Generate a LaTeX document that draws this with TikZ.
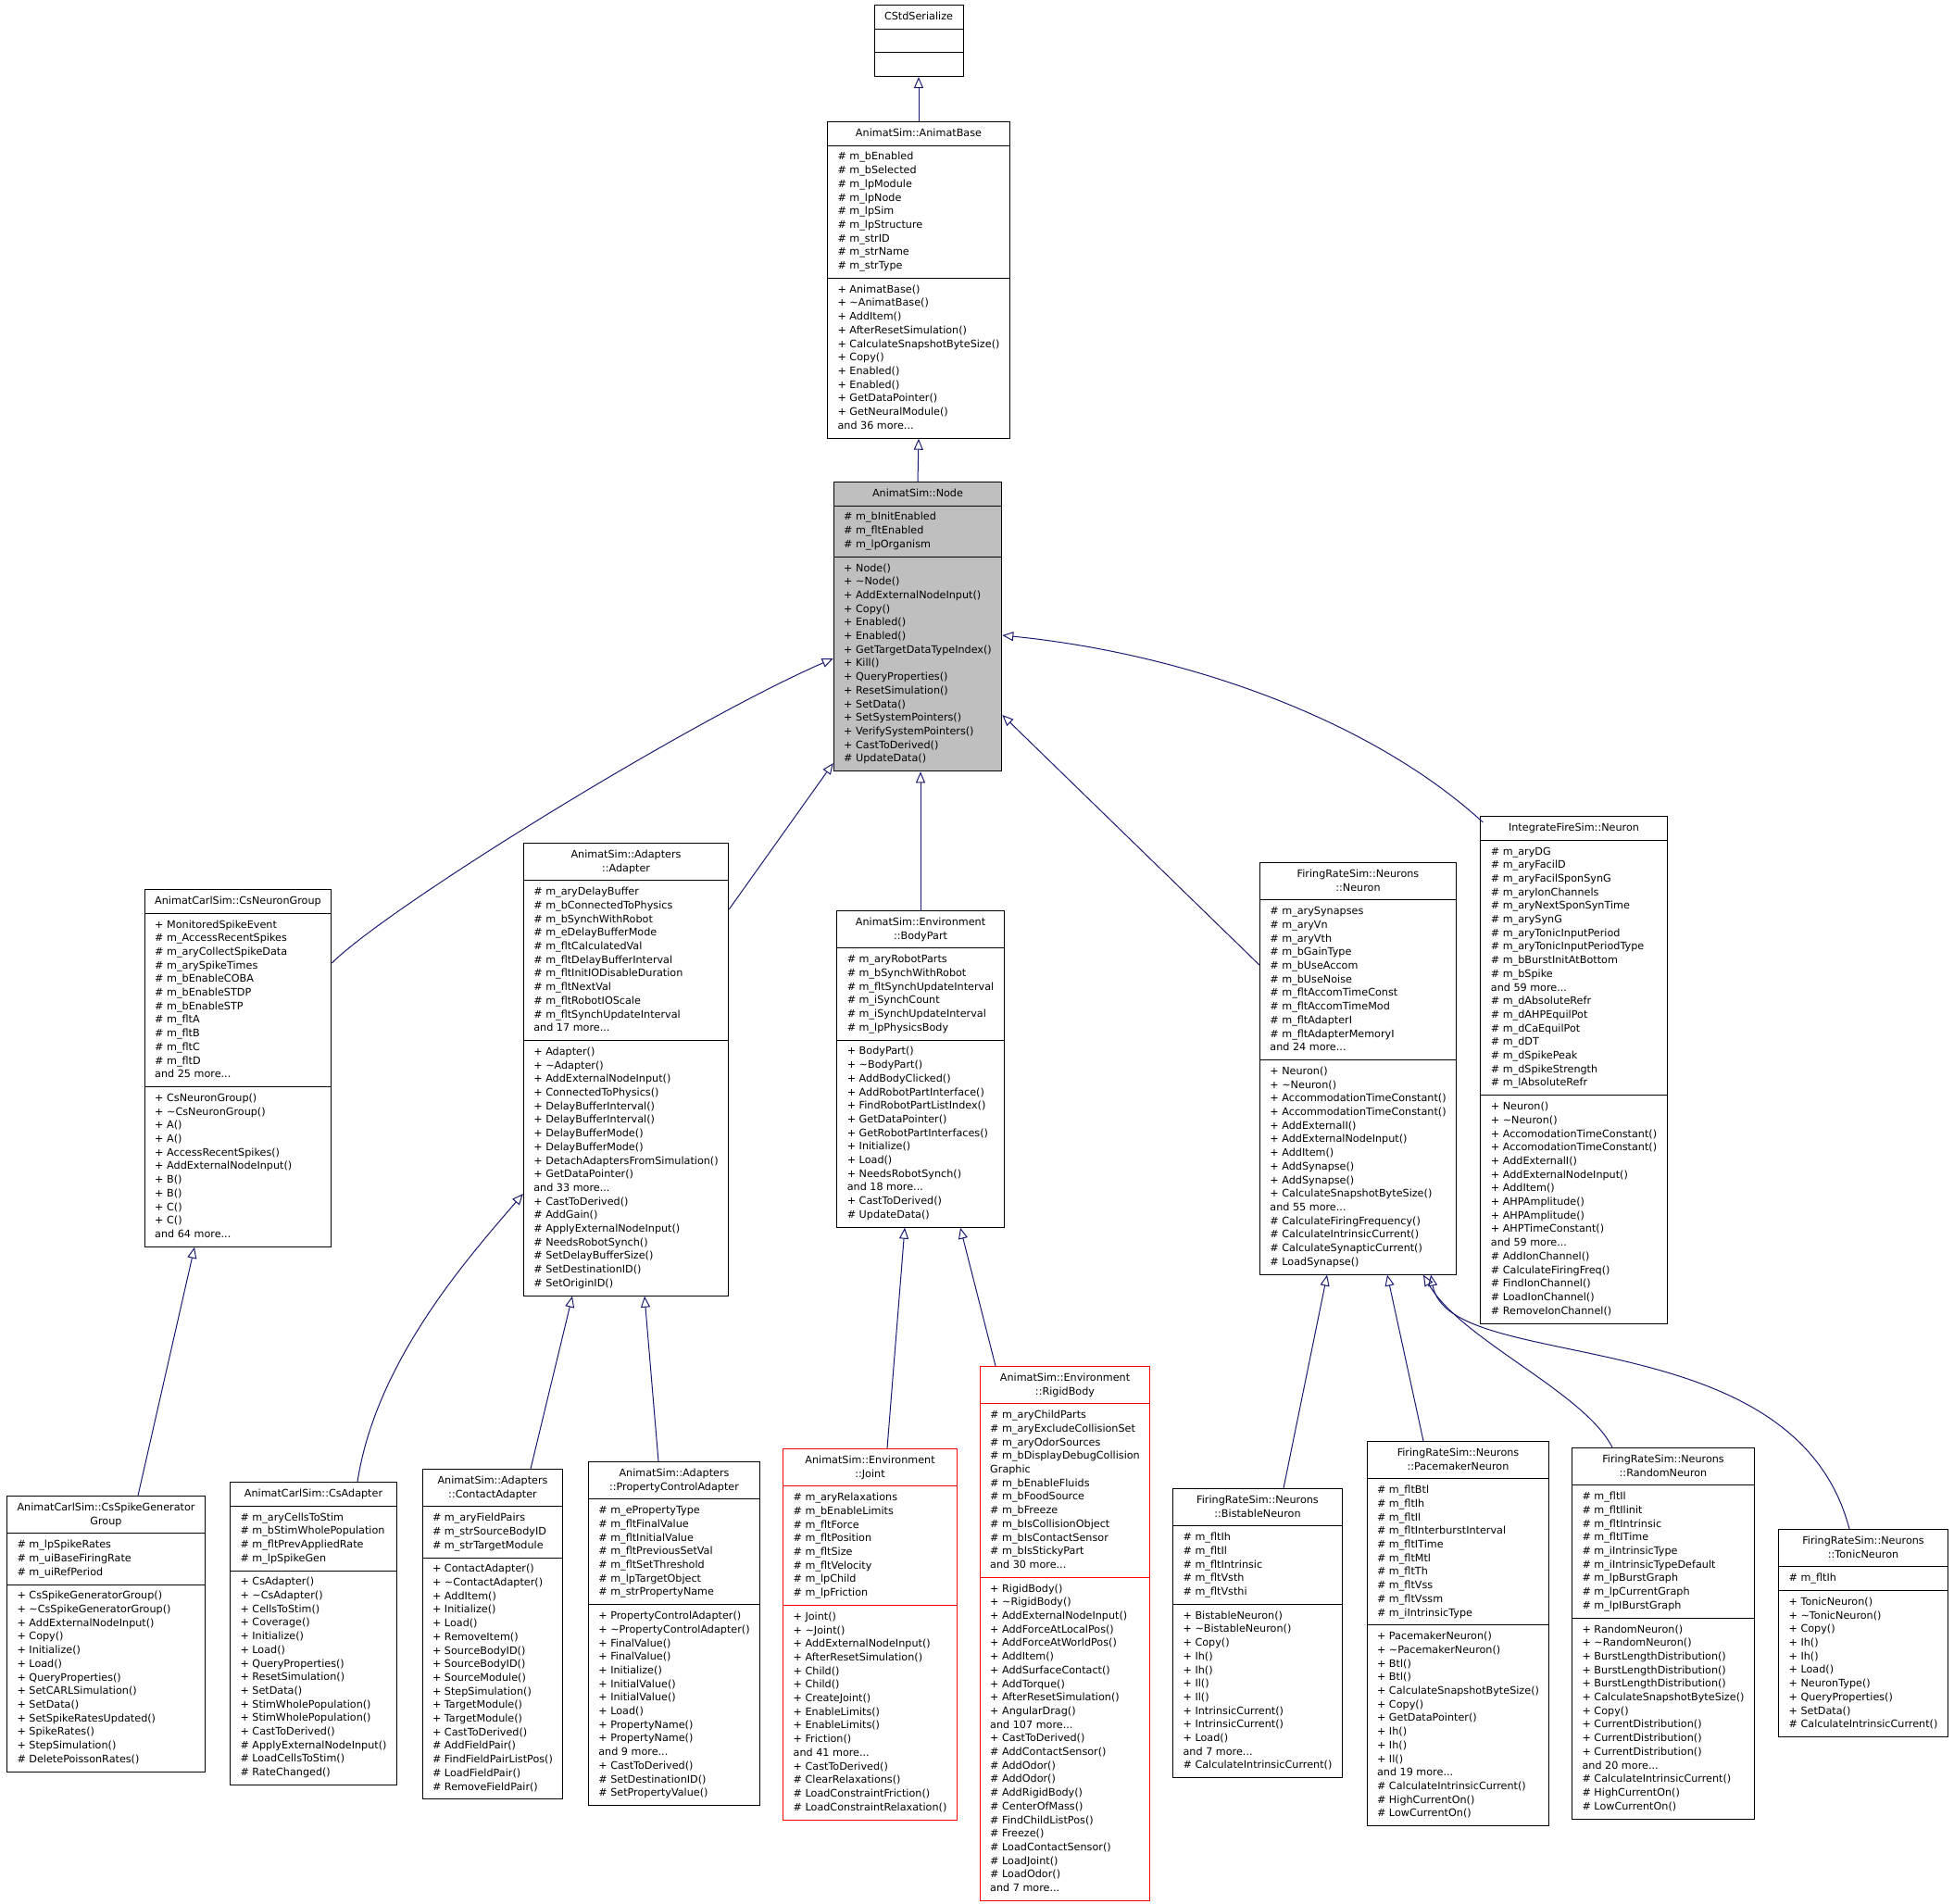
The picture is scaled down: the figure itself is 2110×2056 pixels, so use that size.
\documentclass[tikz,border=0pt]{standalone}
\usepackage{fontspec}
\setmainfont{DejaVu Sans}
\usetikzlibrary{arrows.meta,shapes.multipart}
\definecolor{edgeblue}{HTML}{191970}
\definecolor{grey75}{HTML}{BFBFBF}
% one compartment of a class box, one member per row
\newcommand\cmp[1]{\begin{tabular}{@{}l@{}}#1\end{tabular}}
\newcommand\ttl[1]{\begin{tabular}{@{}c@{}}#1\end{tabular}}
\newcommand\dtor{\textasciitilde}
\tikzset{
  cls/.style={rectangle split,rectangle split parts=3,
    rectangle split part align={center,left,left},
    draw=black,line width=1pt,fill=white,anchor=north,
    inner xsep=11pt,inner ysep=5pt,
    font=\fontsize{11.2}{14.7}\selectfont},
  cur/.style={cls,fill=grey75},   % the class the graph is about
  trunc/.style={cls,draw=red},    % truncated subclasses
  inh/.style={draw=edgeblue,line width=1pt,line join=miter,
    -{Triangle[open,length=12pt,width=10pt]}},
}

\begin{document}
\begin{tikzpicture}[x=1pt,y=-1pt]
  \useasboundingbox (0,0) rectangle (2110,2056);
  % ---- bases ----
  \node[cls] (cstd) at (992,5) {\ttl{CStdSerialize}\nodepart{second}\cmp{\mbox{}}\nodepart{third}\cmp{\mbox{}}};
  \node[cls] (abase) at (992,131) {\ttl{AnimatSim::AnimatBase}
    \nodepart{second}\cmp{\# m\_bEnabled\\\# m\_bSelected\\\# m\_lpModule\\\# m\_lpNode\\\# m\_lpSim\\\# m\_lpStructure\\\# m\_strID\\\# m\_strName\\\# m\_strType}
    \nodepart{third}\cmp{+ AnimatBase()\\+ \dtor AnimatBase()\\+ AddItem()\\+ AfterResetSimulation()\\+ CalculateSnapshotByteSize()\\+ Copy()\\+ Enabled()\\+ Enabled()\\+ GetDataPointer()\\+ GetNeuralModule()\\and 36 more...}};
  \node[cur] (nd) at (991,520) {\ttl{AnimatSim::Node}
    \nodepart{second}\cmp{\# m\_bInitEnabled\\\# m\_fltEnabled\\\# m\_lpOrganism}
    \nodepart{third}\cmp{+ Node()\\+ \dtor Node()\\+ AddExternalNodeInput()\\+ Copy()\\+ Enabled()\\+ Enabled()\\+ GetTargetDataTypeIndex()\\+ Kill()\\+ QueryProperties()\\+ ResetSimulation()\\+ SetData()\\+ SetSystemPointers()\\+ VerifySystemPointers()\\+ CastToDerived()\\\# UpdateData()}};
  % ---- direct subclasses ----
  \node[cls] (csng) at (257,960) {\ttl{AnimatCarlSim::CsNeuronGroup}
    \nodepart{second}\cmp{+ MonitoredSpikeEvent\\\# m\_AccessRecentSpikes\\\# m\_aryCollectSpikeData\\\# m\_arySpikeTimes\\\# m\_bEnableCOBA\\\# m\_bEnableSTDP\\\# m\_bEnableSTP\\\# m\_fltA\\\# m\_fltB\\\# m\_fltC\\\# m\_fltD\\and 25 more...}
    \nodepart{third}\cmp{+ CsNeuronGroup()\\+ \dtor CsNeuronGroup()\\+ A()\\+ A()\\+ AccessRecentSpikes()\\+ AddExternalNodeInput()\\+ B()\\+ B()\\+ C()\\+ C()\\and 64 more...}};
  \node[cls] (adp) at (676,910) {\ttl{AnimatSim::Adapters\\::Adapter}
    \nodepart{second}\cmp{\# m\_aryDelayBuffer\\\# m\_bConnectedToPhysics\\\# m\_bSynchWithRobot\\\# m\_eDelayBufferMode\\\# m\_fltCalculatedVal\\\# m\_fltDelayBufferInterval\\\# m\_fltInitIODisableDuration\\\# m\_fltNextVal\\\# m\_fltRobotIOScale\\\# m\_fltSynchUpdateInterval\\and 17 more...}
    \nodepart{third}\cmp{+ Adapter()\\+ \dtor Adapter()\\+ AddExternalNodeInput()\\+ ConnectedToPhysics()\\+ DelayBufferInterval()\\+ DelayBufferInterval()\\+ DelayBufferMode()\\+ DelayBufferMode()\\+ DetachAdaptersFromSimulation()\\+ GetDataPointer()\\and 33 more...\\+ CastToDerived()\\\# AddGain()\\\# ApplyExternalNodeInput()\\\# NeedsRobotSynch()\\\# SetDelayBufferSize()\\\# SetDestinationID()\\\# SetOriginID()}};
  \node[cls] (bp) at (994,983) {\ttl{AnimatSim::Environment\\::BodyPart}
    \nodepart{second}\cmp{\# m\_aryRobotParts\\\# m\_bSynchWithRobot\\\# m\_fltSynchUpdateInterval\\\# m\_iSynchCount\\\# m\_iSynchUpdateInterval\\\# m\_lpPhysicsBody}
    \nodepart{third}\cmp{+ BodyPart()\\+ \dtor BodyPart()\\+ AddBodyClicked()\\+ AddRobotPartInterface()\\+ FindRobotPartListIndex()\\+ GetDataPointer()\\+ GetRobotPartInterfaces()\\+ Initialize()\\+ Load()\\+ NeedsRobotSynch()\\and 18 more...\\+ CastToDerived()\\\# UpdateData()}};
  \node[cls] (frn) at (1466.5,931) {\ttl{FiringRateSim::Neurons\\::Neuron}
    \nodepart{second}\cmp{\# m\_arySynapses\\\# m\_aryVn\\\# m\_aryVth\\\# m\_bGainType\\\# m\_bUseAccom\\\# m\_bUseNoise\\\# m\_fltAccomTimeConst\\\# m\_fltAccomTimeMod\\\# m\_fltAdapterI\\\# m\_fltAdapterMemoryI\\and 24 more...}
    \nodepart{third}\cmp{+ Neuron()\\+ \dtor Neuron()\\+ AccommodationTimeConstant()\\+ AccommodationTimeConstant()\\+ AddExternalI()\\+ AddExternalNodeInput()\\+ AddItem()\\+ AddSynapse()\\+ AddSynapse()\\+ CalculateSnapshotByteSize()\\and 55 more...\\\# CalculateFiringFrequency()\\\# CalculateIntrinsicCurrent()\\\# CalculateSynapticCurrent()\\\# LoadSynapse()}};
  \node[cls] (ifn) at (1699.5,881) {\ttl{IntegrateFireSim::Neuron}
    \nodepart{second}\cmp{\# m\_aryDG\\\# m\_aryFacilD\\\# m\_aryFacilSponSynG\\\# m\_aryIonChannels\\\# m\_aryNextSponSynTime\\\# m\_arySynG\\\# m\_aryTonicInputPeriod\\\# m\_aryTonicInputPeriodType\\\# m\_bBurstInitAtBottom\\\# m\_bSpike\\and 59 more...\\\# m\_dAbsoluteRefr\\\# m\_dAHPEquilPot\\\# m\_dCaEquilPot\\\# m\_dDT\\\# m\_dSpikePeak\\\# m\_dSpikeStrength\\\# m\_lAbsoluteRefr}
    \nodepart{third}\cmp{+ Neuron()\\+ \dtor Neuron()\\+ AccomodationTimeConstant()\\+ AccomodationTimeConstant()\\+ AddExternalI()\\+ AddExternalNodeInput()\\+ AddItem()\\+ AHPAmplitude()\\+ AHPAmplitude()\\+ AHPTimeConstant()\\and 59 more...\\\# AddIonChannel()\\\# CalculateFiringFreq()\\\# FindIonChannel()\\\# LoadIonChannel()\\\# RemoveIonChannel()}};
  % ---- second level ----
  \node[cls] (csgg) at (114.5,1615) {\ttl{AnimatCarlSim::CsSpikeGenerator\\Group}
    \nodepart{second}\cmp{\# m\_lpSpikeRates\\\# m\_uiBaseFiringRate\\\# m\_uiRefPeriod}
    \nodepart{third}\cmp{+ CsSpikeGeneratorGroup()\\+ \dtor CsSpikeGeneratorGroup()\\+ AddExternalNodeInput()\\+ Copy()\\+ Initialize()\\+ Load()\\+ QueryProperties()\\+ SetCARLSimulation()\\+ SetData()\\+ SetSpikeRatesUpdated()\\+ SpikeRates()\\+ StepSimulation()\\\# DeletePoissonRates()}};
  \node[cls] (csad) at (338.5,1600) {\ttl{AnimatCarlSim::CsAdapter}
    \nodepart{second}\cmp{\# m\_aryCellsToStim\\\# m\_bStimWholePopulation\\\# m\_fltPrevAppliedRate\\\# m\_lpSpikeGen}
    \nodepart{third}\cmp{+ CsAdapter()\\+ \dtor CsAdapter()\\+ CellsToStim()\\+ Coverage()\\+ Initialize()\\+ Load()\\+ QueryProperties()\\+ ResetSimulation()\\+ SetData()\\+ StimWholePopulation()\\+ StimWholePopulation()\\+ CastToDerived()\\\# ApplyExternalNodeInput()\\\# LoadCellsToStim()\\\# RateChanged()}};
  \node[cls] (cad) at (532,1586) {\ttl{AnimatSim::Adapters\\::ContactAdapter}
    \nodepart{second}\cmp{\# m\_aryFieldPairs\\\# m\_strSourceBodyID\\\# m\_strTargetModule}
    \nodepart{third}\cmp{+ ContactAdapter()\\+ \dtor ContactAdapter()\\+ AddItem()\\+ Initialize()\\+ Load()\\+ RemoveItem()\\+ SourceBodyID()\\+ SourceBodyID()\\+ SourceModule()\\+ StepSimulation()\\+ TargetModule()\\+ TargetModule()\\+ CastToDerived()\\\# AddFieldPair()\\\# FindFieldPairListPos()\\\# LoadFieldPair()\\\# RemoveFieldPair()}};
  \node[cls] (pca) at (728,1578) {\ttl{AnimatSim::Adapters\\::PropertyControlAdapter}
    \nodepart{second}\cmp{\# m\_ePropertyType\\\# m\_fltFinalValue\\\# m\_fltInitialValue\\\# m\_fltPreviousSetVal\\\# m\_fltSetThreshold\\\# m\_lpTargetObject\\\# m\_strPropertyName}
    \nodepart{third}\cmp{+ PropertyControlAdapter()\\+ \dtor PropertyControlAdapter()\\+ FinalValue()\\+ FinalValue()\\+ Initialize()\\+ InitialValue()\\+ InitialValue()\\+ Load()\\+ PropertyName()\\+ PropertyName()\\and 9 more...\\+ CastToDerived()\\\# SetDestinationID()\\\# SetPropertyValue()}};
  \node[trunc] (jnt) at (939.5,1564) {\ttl{AnimatSim::Environment\\::Joint}
    \nodepart{second}\cmp{\# m\_aryRelaxations\\\# m\_bEnableLimits\\\# m\_fltForce\\\# m\_fltPosition\\\# m\_fltSize\\\# m\_fltVelocity\\\# m\_lpChild\\\# m\_lpFriction}
    \nodepart{third}\cmp{+ Joint()\\+ \dtor Joint()\\+ AddExternalNodeInput()\\+ AfterResetSimulation()\\+ Child()\\+ Child()\\+ CreateJoint()\\+ EnableLimits()\\+ EnableLimits()\\+ Friction()\\and 41 more...\\+ CastToDerived()\\\# ClearRelaxations()\\\# LoadConstraintFriction()\\\# LoadConstraintRelaxation()}};
  \node[trunc] (rb) at (1150,1475) {\ttl{AnimatSim::Environment\\::RigidBody}
    \nodepart{second}\cmp{\# m\_aryChildParts\\\# m\_aryExcludeCollisionSet\\\# m\_aryOdorSources\\\# m\_bDisplayDebugCollision\\Graphic\\\# m\_bEnableFluids\\\# m\_bFoodSource\\\# m\_bFreeze\\\# m\_bIsCollisionObject\\\# m\_bIsContactSensor\\\# m\_bIsStickyPart\\and 30 more...}
    \nodepart{third}\cmp{+ RigidBody()\\+ \dtor RigidBody()\\+ AddExternalNodeInput()\\+ AddForceAtLocalPos()\\+ AddForceAtWorldPos()\\+ AddItem()\\+ AddSurfaceContact()\\+ AddTorque()\\+ AfterResetSimulation()\\+ AngularDrag()\\and 107 more...\\+ CastToDerived()\\\# AddContactSensor()\\\# AddOdor()\\\# AddOdor()\\\# AddRigidBody()\\\# CenterOfMass()\\\# FindChildListPos()\\\# Freeze()\\\# LoadContactSensor()\\\# LoadJoint()\\\# LoadOdor()\\and 7 more...}};
  \node[cls] (bist) at (1358,1607) {\ttl{FiringRateSim::Neurons\\::BistableNeuron}
    \nodepart{second}\cmp{\# m\_fltIh\\\# m\_fltIl\\\# m\_fltIntrinsic\\\# m\_fltVsth\\\# m\_fltVsthi}
    \nodepart{third}\cmp{+ BistableNeuron()\\+ \dtor BistableNeuron()\\+ Copy()\\+ Ih()\\+ Ih()\\+ Il()\\+ Il()\\+ IntrinsicCurrent()\\+ IntrinsicCurrent()\\+ Load()\\and 7 more...\\\# CalculateIntrinsicCurrent()}};
  \node[cls] (pace) at (1574.5,1556) {\ttl{FiringRateSim::Neurons\\::PacemakerNeuron}
    \nodepart{second}\cmp{\# m\_fltBtl\\\# m\_fltIh\\\# m\_fltIl\\\# m\_fltInterburstInterval\\\# m\_fltITime\\\# m\_fltMtl\\\# m\_fltTh\\\# m\_fltVss\\\# m\_fltVssm\\\# m\_iIntrinsicType}
    \nodepart{third}\cmp{+ PacemakerNeuron()\\+ \dtor PacemakerNeuron()\\+ Btl()\\+ Btl()\\+ CalculateSnapshotByteSize()\\+ Copy()\\+ GetDataPointer()\\+ Ih()\\+ Ih()\\+ Il()\\and 19 more...\\\# CalculateIntrinsicCurrent()\\\# HighCurrentOn()\\\# LowCurrentOn()}};
  \node[cls] (rnd) at (1796,1563) {\ttl{FiringRateSim::Neurons\\::RandomNeuron}
    \nodepart{second}\cmp{\# m\_fltIl\\\# m\_fltIlinit\\\# m\_fltIntrinsic\\\# m\_fltITime\\\# m\_iIntrinsicType\\\# m\_iIntrinsicTypeDefault\\\# m\_lpBurstGraph\\\# m\_lpCurrentGraph\\\# m\_lpIBurstGraph}
    \nodepart{third}\cmp{+ RandomNeuron()\\+ \dtor RandomNeuron()\\+ BurstLengthDistribution()\\+ BurstLengthDistribution()\\+ BurstLengthDistribution()\\+ CalculateSnapshotByteSize()\\+ Copy()\\+ CurrentDistribution()\\+ CurrentDistribution()\\+ CurrentDistribution()\\and 20 more...\\\# CalculateIntrinsicCurrent()\\\# HighCurrentOn()\\\# LowCurrentOn()}};
  \node[cls] (ton) at (2012,1651) {\ttl{FiringRateSim::Neurons\\::TonicNeuron}
    \nodepart{second}\cmp{\# m\_fltIh}
    \nodepart{third}\cmp{+ TonicNeuron()\\+ \dtor TonicNeuron()\\+ Copy()\\+ Ih()\\+ Ih()\\+ Load()\\+ NeuronType()\\+ QueryProperties()\\+ SetData()\\\# CalculateIntrinsicCurrent()}};
  % ---- inheritance ----
  \draw[inh] (abase.north) -- (cstd.south);
  \draw[inh] (nd.north) -- (abase.south);
  \draw[inh] ([shift={(0,80)}]csng.north east) .. controls +(60,-60) and +(-160,70) .. ([shift={(0,191)}]nd.north west);
  \draw[inh] ([shift={(0,72)}]adp.north east) -- ([shift={(0,304)}]nd.north west);
  \draw[inh] (bp.north) -- (bp.north |- nd.south);
  \draw[inh] ([shift={(0,111)}]frn.north west) -- ([shift={(0,252)}]nd.north east);
  \draw[inh] ([shift={(3,7)}]ifn.north west) .. controls +(-120,-110) and +(200,20) .. ([shift={(0,166)}]nd.north east);
  \draw[inh] ([xshift=34.5pt]csgg.north) -- ([xshift=-47pt]csng.south);
  \draw[inh] ([xshift=47.5pt]csad.north) .. controls +(20,-130) and +(-60,70) .. ([shift={(0,379)}]adp.north west);
  \draw[inh] ([xshift=41pt]cad.north) -- ([xshift=-58pt]adp.south);
  \draw[inh] ([xshift=-17pt]pca.north) -- ([xshift=20pt]adp.south);
  \draw[inh] ([xshift=18.5pt]jnt.north) -- ([xshift=-17pt]bp.south);
  \draw[inh] ([xshift=-75pt]rb.north) -- ([xshift=43pt]bp.south);
  \draw[inh] ([xshift=28pt]bist.north) -- ([xshift=-33.5pt]frn.south);
  \draw[inh] ([xshift=-37.5pt]pace.north) -- ([xshift=31.5pt]frn.south);
  \draw[inh] ([xshift=-55pt]rnd.north) .. controls +(-30,-60) and +(40,70) .. ([xshift=70.5pt]frn.south);
  \draw[inh] ([xshift=-15pt]ton.north) .. controls +(-60,-230) and +(20,110) .. ([xshift=78.5pt]frn.south);
\end{tikzpicture}
\end{document}
